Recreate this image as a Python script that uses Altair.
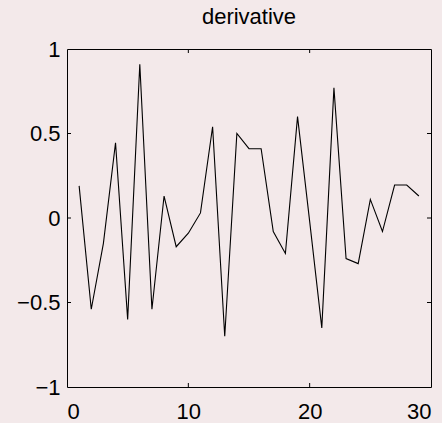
import altair as alt
import pandas as pd

x_vals = list(range(1, 30))
y_vals = [0.19, -0.54, -0.15, 0.445, -0.60, 0.91, -0.54, 0.13, -0.17, -0.09,
          0.03, 0.54, -0.70, 0.50, 0.41, 0.41, -0.08, -0.21, 0.60, -0.02,
          -0.65, 0.77, -0.24, -0.27, 0.11, -0.08, 0.195, 0.195, 0.13]
x_ticks = [0, 10, 20, 30]
y_ticks = [-1, -0.5, 0, 0.5, 1]

df = pd.DataFrame({"x": x_vals, "y": y_vals})
BG = "#f3e9ea"
FONT = "Liberation Sans, Arial, sans-serif"
W, H = 364, 338

xs = alt.Scale(domain=[0, 30], nice=False)
ys = alt.Scale(domain=[-1, 1], nice=False)

line = alt.Chart(df).mark_line(color="black", strokeWidth=1.1).encode(
    x=alt.X("x:Q", scale=xs, axis=alt.Axis(values=x_ticks, format="~g", title=None,
                                            ticks=False, domain=False, grid=False,
                                            labelPadding=14, labelFontSize=22,
                                            labelFont=FONT, labelColor="black")),
    y=alt.Y("y:Q", scale=ys, axis=alt.Axis(values=y_ticks, format="~g", title=None,
                                            ticks=False, domain=False, grid=False,
                                            labelPadding=7, labelFontSize=22,
                                            labelFont=FONT, labelColor="black")),
)

xt = pd.DataFrame({"t": [10, 20]})
yt = pd.DataFrame({"t": [-0.5, 0, 0.5]})
tick_top = alt.Chart(xt).mark_rule(color="black").encode(
    x=alt.X("t:Q", scale=xs), y=alt.value(0), y2=alt.value(4))
tick_bot = alt.Chart(xt).mark_rule(color="black").encode(
    x=alt.X("t:Q", scale=xs), y=alt.value(H - 4), y2=alt.value(H))
tick_l = alt.Chart(yt).mark_rule(color="black").encode(
    y=alt.Y("t:Q", scale=ys), x=alt.value(0), x2=alt.value(4))
tick_r = alt.Chart(yt).mark_rule(color="black").encode(
    y=alt.Y("t:Q", scale=ys), x=alt.value(W - 4), x2=alt.value(W))

chart = alt.layer(line, tick_top, tick_bot, tick_l, tick_r).properties(
    width=W, height=H,
    title=alt.TitleParams("derivative", fontSize=22, fontWeight="normal", font=FONT,
                          color="black", offset=9, anchor="middle"),
    background=BG,
    autosize=alt.AutoSizeParams(type="none"),
    padding={"left": 67, "top": 49, "right": 11, "bottom": 36},
).configure_view(stroke="black", strokeWidth=1, fill=BG)

chart.save("out.html", embed_options={"renderer": "svg", "actions": False})
